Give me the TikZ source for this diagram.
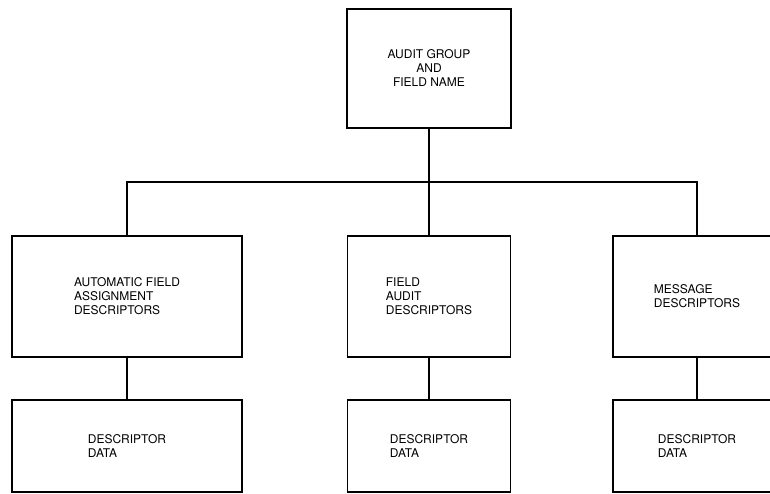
\documentclass[tikz,border=0pt]{standalone}
\usepackage{fontspec}
\setsansfont{TeX Gyre Heros}
\usepackage{tikz}
\usetikzlibrary{positioning}
\tikzset{
  cell/.style     = {draw, line width=1.3pt, align=left, inner sep=0pt,
                     minimum width=163pt, minimum height=121pt,
                     font=\sffamily\fontsize{12}{14}\selectfont},
  cellwide/.style = {cell, minimum width=230pt},
  celldata/.style = {cell, minimum height=92pt},
  link/.style     = {line width=1.3pt}
}
\begin{document}
\begin{tikzpicture}[x=1pt, y=-1pt]
        \useasboundingbox (0,0) rectangle (770,493);
        \clip (0,0) rectangle (770,493);

        \node[cell, align=center, minimum width=164pt, minimum height=119pt] (root) at (429,68.5)
             {AUDIT GROUP\\ AND\\ FIELD NAME};

        \node[cellwide] (auto) at (127,296.5) {AUTOMATIC FIELD\\ ASSIGNMENT\\ DESCRIPTORS};
        \node[cell] (audit) at (429,296.5) {FIELD\\ AUDIT\\ DESCRIPTORS};
        \node[cell, minimum width=168pt] (msg) at (697,296.5) {MESSAGE\\ DESCRIPTORS};

        \node[celldata, minimum width=230pt] (autodata) at (127,446) {DESCRIPTOR\\ DATA};
        \node[celldata] (auditdata) at (429,446) {DESCRIPTOR\\ DATA};
        \node[celldata, minimum width=168pt] (msgdata) at (697,446) {DESCRIPTOR\\ DATA};

        \coordinate (bus) at (root.south |- 0,182);

        \draw[link] (root.south) -- (bus);
        \draw[link] (auto.north) |- (bus) -| (msg.north);
        \draw[link] (bus) -- (audit.north);
        \draw[link] (auto) -- (autodata);
        \draw[link] (audit) -- (auditdata);
        \draw[link] (msg) -- (msgdata);
    \end{tikzpicture}
\end{document}
